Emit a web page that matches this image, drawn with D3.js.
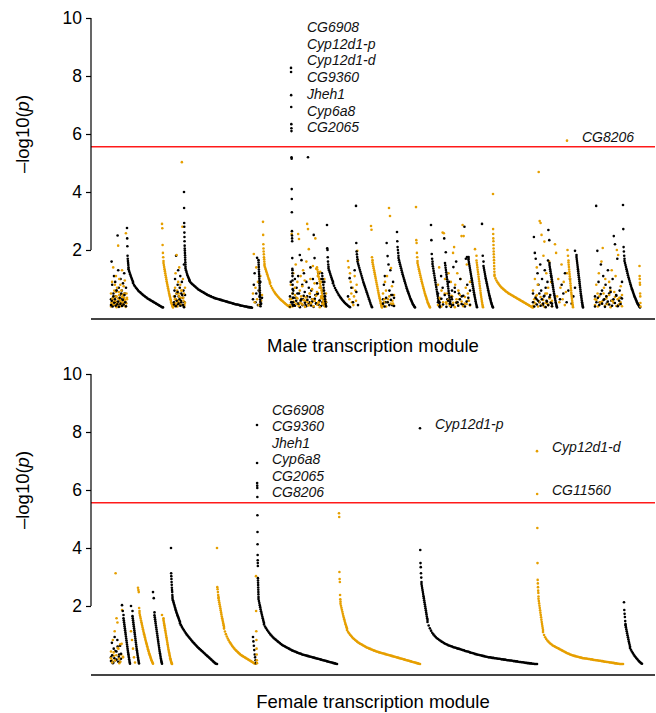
<!DOCTYPE html>
<html>
<head>
<meta charset="utf-8">
<script src="https://cdn.jsdelivr.net/npm/d3@7.9.0/dist/d3.min.js"></script>
<style>
  body { margin: 0; background: #fff; }
  svg { display: block; font-family: "Liberation Sans", Arial, Helvetica, sans-serif; }
</style>
</head>
<body>
<svg id="chart" width="656" height="713"></svg>
<script>
// Bonferroni line and y ticks
const threshold = 5.56;
const yTicks = [2, 4, 6, 8, 10];

// modules: [colour (0 black / 1 orange), start, end, top hits, sorted rest, steep part, steep width]
// values are -log10(p)
const maleModules = [
  [0, 20, 35, [], [0.3,1.6,0.8,0.1,0.5,1.1,0.2,0.9,0.4,0.6,0.2,2.5,1.3,0.7,0.1,0.45,1.0,0.3,0.6,0.15,0.85,0.35,1.2,0.5,0.2,0.7]],
  [1, 20, 36, [], [0.5,0.2,0.9,0.35,1.4,0.1,0.6,0.8,0.25,1.1,0.4,0.7,0.15,2.15,0.55,1.0,0.3,0.8,0.2,0.6,1.3,0.45,0.1,0.75,0.35,0.95,0.2,2.58,0.5,0.3]],
  [1, 20, 36, [], [0.05,0.15,0.3,0.08,0.22,0.4,0.12,0.55,0.03,0.18,0.33,0.09,0.45,0.25,0.06,0.14,0.38,0.2,0.1,0.5,0.28,0.04,0.16,0.35]],
  [0, 20, 35, [], [0.1,0.25,0.05,0.4,0.18,0.3,0.08,0.6,0.13,0.22,0.04,0.35,0.15,0.5,0.07,0.28,0.12,0.45,0.2,0.06]],
  [0, 36, 72, [2.76,2.40,2.13,1.80,1.70,1.62,1.55,1.48,1.40], [0.86,0.8,0.75,0.7,0.66,0.62,0.58,0.55,0.52,0.49,0.46,0.43,0.41,0.38,0.36,0.33,0.31,0.29,0.27,0.25,0.23,0.21,0.19,0.17,0.15,0.13,0.11,0.09,0.07,0.05,0.03,0.02], [1.34,1.28,1.22,1.16,1.1,1.05,1.0,0.95,0.9], 4.5],
  [1, 71, 82, [2.90,2.75,2.17,1.90,1.75,1.62], [1.55,1.48,1.41,1.34,1.27,1.2,1.13,1.06,0.99,0.92,0.86,0.8,0.74,0.68,0.62,0.56,0.5,0.45,0.4,0.35,0.3,0.25,0.2,0.16,0.12,0.08,0.05,0.02]],
  [0, 83, 94, [], [0.2,0.6,1.0,0.3,1.8,0.5,0.1,0.8,1.3,0.4,0.15,0.7,1.1,0.25,0.5,0.9,0.1,0.35,0.6,1.5,0.2,0.45]],
  [1, 83, 94, [], [0.4,0.1,0.7,1.2,0.3,1.83,0.6,0.2,0.9,0.5,1.4,0.15,0.8,0.35,0.6,5.03,2.8,1.0,0.25,0.5,0.1,0.7]],
  [1, 83, 94, [], [0.08,0.3,0.15,0.5,0.05,0.25,0.4,0.12,0.2,0.6,0.1,0.35,0.04,0.18]],
  [0, 83, 93, [], [0.12,0.4,0.06,0.25,0.55,0.15,0.3,0.08,0.2,0.45,0.1,0.03]],
  [0, 93, 161, [4.00,3.45,2.93,2.80,2.60,2.45,2.30,2.15,2.05,1.98,1.90,1.82,1.74,1.66,1.58,1.50,1.42], [0.93,0.89,0.85,0.82,0.79,0.76,0.73,0.7,0.67,0.64,0.62,0.6,0.58,0.56,0.54,0.52,0.5,0.48,0.46,0.44,0.43,0.41,0.4,0.38,0.37,0.35,0.34,0.33,0.32,0.31,0.3,0.29,0.28,0.27,0.26,0.25,0.24,0.23,0.22,0.21,0.2,0.19,0.18,0.17,0.16,0.15,0.14,0.13,0.12,0.12,0.11,0.1,0.09,0.08,0.08,0.07,0.06,0.05,0.05,0.04,0.03,0.03,0.02,0.02,0.01], [1.36,1.3,1.24,1.18,1.13,1.08,1.04,1.0,0.96], 4],
  [0, 162, 171, [], [0.3,0.8,1.2,0.2,0.5,1.73,0.1,0.6,0.4,0.9,0.15,0.35]],
  [1, 162, 171, [], [0.5,1.86,0.2,0.7,1.4,0.3,0.9,0.1,0.6,1.1,0.25,0.45]],
  [0, 167.5, 169.5, [], [1.65,1.57,1.49,1.41,1.33,1.25,1.17,1.09,1.01,0.93,0.85,0.77,0.69,0.61,0.53,0.45,0.37,0.29,0.21,0.13,0.06]],
  [1, 172, 199, [2.97,2.52,2.20,2.05,1.95,1.85,1.75,1.68,1.60,1.52], [0.84,0.76,0.69,0.63,0.57,0.52,0.47,0.43,0.39,0.35,0.31,0.28,0.25,0.22,0.19,0.16,0.13,0.1,0.08,0.05,0.03], [1.46,1.4,1.34,1.28,1.22,1.16,1.1,1.04,0.99,0.94,0.89], 5.5],
  [0, 199, 235, [], [0.4,0.9,0.2,1.3,0.6,0.1,1.0,0.35,0.7,0.15,1.1,0.5,1.83,0.25,1.65,0.8,0.3,1.2,0.55,0.1,0.9,0.4,5.2,0.7,0.2,1.4,0.6,0.3,1.0,2.52,1.72,0.45,0.15,0.85,0.5,1.2,0.25,0.7,1.0,0.35,0.6,0.1,0.9,0.4,0.2]],
  [1, 199, 235, [], [0.3,0.8,2.55,0.5,1.2,0.2,0.7,1.5,0.35,0.9,2.55,2.38,0.6,1.1,0.15,0.75,1.3,0.4,0.95,0.25,1.6,2.9,2.72,2.03,0.5,1.0,0.2,0.65,1.45,0.3,0.85,2.4,1.35,0.55,1.1,0.2,0.7,1.25,0.4,0.9,0.15,0.6,1.0,0.3,0.5]],
  [0, 199, 235, [], [0.05,0.2,0.12,0.35,0.08,0.25,0.5,0.15,0.03,0.3,0.1,0.42,0.18,0.06,0.28,0.14,0.38,0.09,0.22,0.04,0.32,0.16,0.48,0.11,0.26,0.07,0.2,0.36,0.13,0.05]],
  [1, 199, 235, [], [0.1,0.3,0.05,0.22,0.45,0.14,0.33,0.07,0.18,0.4,0.12,0.27,0.04,0.36,0.2,0.09,0.5,0.16,0.3,0.06,0.24,0.42,0.11,0.19,0.03,0.34,0.15,0.26,0.08,0.21]],
  [0, 200, 202, [8.28,8.14,7.34,6.93,6.34,6.20,6.10,5.20,5.15,4.10,3.76,3.30,2.65,2.50,2.40,2.30,1.72,1.35,1.20,1.10], [0.95,0.80,0.65,0.50,0.35,0.20,0.08]],
  [1, 226, 234, [], [1.4,1.32,1.24,1.16,1.08,1.0,0.92,0.84,0.76,0.68,0.6,0.52,0.44,0.37,0.3,0.23,0.16,0.1,0.05]],
  [0, 231, 235, [], [1.2,1.1,1.0,0.9,0.8,0.7,0.6,0.5,0.4,0.3,0.22,0.14,0.07]],
  [0, 236, 259, [2.86,2.06,2.00,1.75,1.60,1.50,1.42], [0.85,0.77,0.69,0.62,0.56,0.5,0.44,0.39,0.34,0.29,0.25,0.21,0.17,0.14,0.11,0.08,0.05,0.03], [1.36,1.3,1.24,1.18,1.12,1.06,1.0,0.95,0.9], 4.5],
  [1, 257, 267, [], [1.62,1.4,0.3,1.2,0.9,0.5,0.2,0.7,0.1,0.4,1.1,0.6,0.25,0.8,1.97,1.65]],
  [0, 257, 267, [], [0.4,1.03,0.7,0.2,1.3,0.55,0.1]],
  [0, 265, 281, [3.52,2.24,1.95,1.85,1.76,1.68], [1.6,1.53,1.46,1.39,1.32,1.25,1.18,1.11,1.04,0.97,0.9,0.84,0.78,0.72,0.66,0.6,0.54,0.48,0.42,0.36,0.3,0.24,0.18,0.12,0.07,0.03]],
  [1, 280, 291, [2.83,2.70,1.75,1.65], [1.58,1.51,1.44,1.37,1.3,1.23,1.16,1.09,1.02,0.95,0.88,0.81,0.74,0.67,0.6,0.53,0.46,0.4,0.34,0.28,0.22,0.16,0.1,0.05,0.02]],
  [0, 292, 303, [], [0.3,0.8,1.1,0.2,2.24,1.79,1.5,0.6,1.3,0.45,0.1,0.9,0.35]],
  [1, 292, 303, [], [0.5,0.2,0.9,0.6,1.1,0.3,3.45,3.17,1.38,0.75,0.15,0.45]],
  [1, 292, 303, [], [0.1,0.3,0.05,0.2,0.4,0.15,0.25,0.08]],
  [0, 292, 303, [], [0.15,0.05,0.35,0.2,0.1,0.28,0.45,0.07]],
  [0, 306, 324, [2.62,2.30,2.10,2.00,1.90,1.80], [1.72,1.65,1.58,1.51,1.44,1.37,1.3,1.23,1.16,1.1,1.04,0.98,0.92,0.86,0.8,0.74,0.68,0.63,0.58,0.53,0.48,0.43,0.38,0.33,0.29,0.25,0.21,0.17,0.13,0.1,0.07,0.04,0.02]],
  [1, 325, 339, [3.48,2.34,2.24,1.9,1.75,1.62], [1.55,1.48,1.41,1.34,1.27,1.2,1.13,1.06,0.99,0.92,0.86,0.8,0.74,0.68,0.62,0.56,0.5,0.45,0.4,0.35,0.3,0.25,0.2,0.16,0.12,0.08,0.05,0.02]],
  [0, 340, 349, [2.86,2.34,1.86,1.7,1.6], [1.52,1.44,1.36,1.28,1.2,1.12,1.04,0.96,0.88,0.8,0.72,0.64,0.56,0.48,0.41,0.34,0.27,0.2,0.14,0.08,0.03]],
  [1, 347, 361, [], [0.8,1.4,0.3,0.6,2.6,2.58,1.0,0.2,0.5,1.2,0.15,0.9,0.4]],
  [0, 347, 361, [], [0.5,0.2,1.1,0.7,2.4,1.92,0.3,0.9,0.1,0.6]],
  [0, 354, 360, [], [1.55,1.47,1.39,1.31,1.23,1.15,1.07,0.99,0.91,0.83,0.75,0.67,0.59,0.51,0.43,0.36,0.29,0.22,0.15,0.09,0.04]],
  [1, 361, 379, [], [0.4,1.9,2.1,0.8,0.2,1.2,0.6,0.3,1.0,2.48,2.86,2.48,0.15,0.7,1.5,0.5,0.25,0.9]],
  [0, 361, 379, [], [0.3,1.41,0.7,1.6,0.2,0.5,1.0,0.4,0.1,2.8,1.7,0.8,1.76,0.6]],
  [1, 347, 379, [], [0.1,0.35,0.05,0.2,0.5,0.15,0.28,0.08,0.42,0.18,0.03,0.3,0.12,0.45,0.22,0.06,0.38,0.14,0.26,0.09]],
  [0, 347, 379, [], [0.2,0.06,0.32,0.12,0.45,0.04,0.25,0.15,0.38,0.1,0.55,0.18,0.08,0.3,0.14,0.42,0.05,0.22,0.35,0.11]],
  [0, 376, 386, [1.76,1.7], [1.66,1.59,1.52,1.45,1.38,1.31,1.24,1.17,1.1,1.03,0.96,0.89,0.82,0.75,0.68,0.61,0.54,0.47,0.41,0.35,0.29,0.23,0.17,0.12,0.07,0.03]],
  [1, 384, 392, [2.03,1.8], [1.64,1.56,1.48,1.4,1.32,1.24,1.16,1.08,1.0,0.92,0.84,0.76,0.68,0.6,0.52,0.45,0.38,0.31,0.24,0.18,0.12,0.07,0.03]],
  [0, 391, 402, [2.90,1.80,1.6], [1.45,1.38,1.31,1.24,1.17,1.1,1.03,0.97,0.91,0.85,0.79,0.73,0.67,0.61,0.55,0.49,0.44,0.39,0.34,0.29,0.24,0.19,0.15,0.11,0.07,0.04,0.02]],
  [1, 402, 442, [3.93,2.72,2.55,2.40,2.30,2.17,2.05,1.95,1.85,1.75,1.65,1.55,1.45,1.35,1.25,1.15], [1.10,1.02,0.95,0.89,0.84,0.79,0.75,0.71,0.68,0.65,0.62,0.59,0.56,0.54,0.51,0.49,0.47,0.45,0.43,0.41,0.39,0.37,0.35,0.33,0.31,0.29,0.27,0.25,0.23,0.21,0.19,0.17,0.15,0.13,0.11,0.09,0.07,0.05,0.03,0.02]],
  [0, 442, 461, [], [0.5,2.45,1.9,1.7,0.3,1.2,0.8,0.2,1.5,0.6,1.0,0.1,0.4,1.3,0.7,0.25,0.9,2.69,2.34,0.45,1.1,0.15]],
  [1, 442, 461, [], [0.6,0.2,1.0,0.4,1.4,0.8,4.69,3.0,2.93,2.52,0.3,1.8,2.29,0.5,1.2,0.15,0.7,1.6,0.35,0.9,0.25]],
  [1, 442, 461, [], [0.08,0.3,0.15,0.45,0.05,0.22,0.38,0.12,0.28,0.04,0.18,0.5,0.1,0.33,0.2,0.06]],
  [0, 442, 461, [], [0.2,0.05,0.35,0.12,0.25,0.5,0.08,0.3,0.15,0.42,0.03,0.22,0.1,0.38,0.18,0.06]],
  [0, 457, 466, [1.64,1.55], [1.48,1.41,1.34,1.27,1.2,1.13,1.06,0.99,0.92,0.85,0.78,0.71,0.64,0.57,0.5,0.44,0.38,0.32,0.26,0.2,0.15,0.1,0.06,0.02]],
  [1, 464, 476, [], [2.2,1.9,0.4,1.0,0.2,0.7,1.5,0.3,0.9,0.1,0.55,1.2]],
  [0, 469, 484, [], [0.3,0.8,0.5,1.2,0.2,0.6,1.0,0.15,0.4,0.7]],
  [1, 476, 482, [5.77,2.0,1.8,1.64], [1.57,1.49,1.41,1.33,1.25,1.17,1.09,1.01,0.93,0.85,0.77,0.69,0.61,0.53,0.46,0.39,0.32,0.25,0.19,0.13,0.08,0.03]],
  [0, 484, 492, [1.97,1.83], [1.76,1.69,1.62,1.55,1.48,1.41,1.34,1.27,1.2,1.13,1.06,0.99,0.92,0.85,0.78,0.71,0.64,0.57,0.5,0.44,0.38,0.32,0.26,0.2,0.15,0.1,0.06,0.02]],
  [0, 504, 531, [], [0.4,3.52,1.97,0.9,0.2,1.5,0.6,1.1,0.3,0.8,0.15,1.3,0.5,0.7,0.25,1.0,2.48,2.2,0.45,1.7,0.1,0.6,0.35,0.9]],
  [1, 504, 531, [], [0.3,0.8,0.5,1.2,0.2,1.6,2.07,0.7,1.0,0.4,0.15,0.9,0.6,1.3,0.25,0.55,1.1,2.0,1.83,0.35,0.75,0.45]],
  [1, 504, 531, [], [0.1,0.28,0.05,0.4,0.16,0.22,0.5,0.08,0.33,0.13,0.45,0.03,0.25,0.18,0.38,0.07,0.3,0.12,0.2,0.06]],
  [0, 504, 531, [], [0.05,0.2,0.35,0.1,0.48,0.15,0.28,0.04,0.4,0.22,0.12,0.55,0.08,0.3,0.17,0.42,0.06,0.25,0.14,0.33]],
  [0, 532, 549, [3.55,2.72,2.1,1.95,1.8,1.7], [1.62,1.55,1.48,1.41,1.34,1.27,1.2,1.13,1.06,1.0,0.94,0.88,0.82,0.76,0.7,0.65,0.6,0.55,0.5,0.45,0.4,0.36,0.32,0.28,0.24,0.2,0.16,0.13,0.1,0.07,0.04,0.02]],
  [1, 548.5, 549.5, [], [1.45,1.1,1.0,0.87,0.8,0.5,0.4,0.17,0.05]]
];

const femaleModules = [
  [0, 20, 30, [], [0.23,0.73,0.03,0.53,0.93,0.13,0.43,0.83,0.08,0.33,0.63,0.18]],
  [1, 20, 32, [], [0.43,0.13,0.83,0.28,1.13,3.13,1.58,1.43,0.53,0.03,0.68,0.33,1.86,0.23]],
  [0, 20, 30, [], [0.1,0.3,0.05,0.2,0.45,0.15,0.6,0.25,0.08,0.35]],
  [1, 20, 32, [], [0.2,0.05,0.4,0.12,0.3,0.55,0.18,0.08,0.7,0.25]],
  [0, 31, 39, [2.03,1.83,1.69], [1.58,1.51,1.44,1.37,1.3,1.23,1.16,1.09,1.02,0.95,0.88,0.81,0.74,0.67,0.6,0.53,0.46,0.4,0.34,0.28,0.22,0.16,0.1,0.05,0.01]],
  [1, 40, 44, [], [1.13,0.83,0.53,0.23,0.05]],
  [0, 40, 48, [2.0,1.83], [1.65,1.58,1.51,1.44,1.37,1.3,1.23,1.16,1.09,1.02,0.95,0.88,0.81,0.74,0.67,0.6,0.53,0.47,0.41,0.35,0.29,0.23,0.17,0.12,0.07,0.02]],
  [1, 47, 62, [2.63,2.55,2.48,1.93,1.83], [1.76,1.69,1.63,1.57,1.5,1.44,1.38,1.32,1.26,1.2,1.14,1.08,1.03,0.97,0.92,0.86,0.81,0.76,0.71,0.66,0.61,0.56,0.51,0.46,0.42,0.37,0.33,0.29,0.25,0.21,0.17,0.13,0.1,0.07,0.04,0.01]],
  [0, 62, 71, [2.48,2.27,1.78], [1.68,1.61,1.54,1.47,1.4,1.33,1.26,1.19,1.12,1.05,0.98,0.91,0.84,0.77,0.7,0.63,0.56,0.49,0.43,0.37,0.31,0.25,0.19,0.14,0.09,0.05,0.01]],
  [1, 71, 81, [1.69,1.58], [1.52,1.46,1.4,1.34,1.28,1.22,1.16,1.1,1.04,0.98,0.92,0.86,0.8,0.74,0.68,0.62,0.56,0.5,0.45,0.4,0.35,0.3,0.25,0.2,0.16,0.12,0.08,0.05,0.02,0.0]],
  [0, 80, 126, [4.0,3.13,3.03,2.93,2.83,2.73,2.63,2.55,2.48,2.38,2.31], [1.4,1.34,1.28,1.22,1.17,1.12,1.07,1.02,0.98,0.94,0.9,0.86,0.82,0.78,0.74,0.71,0.67,0.64,0.6,0.57,0.54,0.51,0.48,0.45,0.42,0.39,0.36,0.33,0.3,0.27,0.24,0.21,0.18,0.15,0.12,0.09,0.06,0.03,0.01,0.0], [2.25,2.2,2.15,2.1,2.05,2.0,1.95,1.9,1.85,1.8,1.76,1.72,1.68,1.64,1.6,1.56,1.52,1.48,1.45], 7.5],
  [1, 126, 164, [4.0,2.65,2.58,2.48,2.38,2.31], [1.22,1.12,1.03,0.95,0.88,0.82,0.76,0.71,0.66,0.61,0.57,0.53,0.49,0.46,0.43,0.4,0.37,0.34,0.31,0.29,0.27,0.25,0.23,0.21,0.19,0.17,0.15,0.13,0.11,0.09,0.07,0.05,0.03,0.01], [2.27,2.2,2.13,2.06,1.99,1.92,1.85,1.78,1.71,1.64,1.58,1.52,1.46,1.4,1.34,1.28], 5.5],
  [0, 162, 165, [], [0.93,0.78,0.63,0.48,0.33,0.23,0.13,0.03]],
  [1, 165, 166, [], [3.03,1.83,1.13,0.83,0.53,0.33,0.13,0.03]],
  [0, 166, 246, [8.24,6.93,6.24,6.15,6.07,5.76,5.13,4.55,4.13,3.76,3.58,3.48,3.38,2.96,2.88,2.8,2.72,2.64,2.56,2.48,2.4,2.31], [1.36,1.29,1.23,1.17,1.12,1.07,1.02,0.98,0.94,0.9,0.87,0.84,0.81,0.78,0.75,0.72,0.69,0.66,0.64,0.62,0.6,0.58,0.56,0.54,0.52,0.5,0.48,0.46,0.45,0.43,0.42,0.4,0.39,0.37,0.36,0.35,0.33,0.32,0.31,0.3,0.29,0.28,0.27,0.26,0.25,0.24,0.23,0.22,0.21,0.2,0.19,0.18,0.17,0.16,0.15,0.14,0.13,0.12,0.11,0.1,0.09,0.08,0.07,0.06,0.05,0.04,0.03,0.02,0.01,0.0], [2.24,2.17,2.1,2.03,1.96,1.89,1.82,1.76,1.7,1.64,1.58,1.52,1.46,1.41], 5.5],
  [1, 248, 329, [5.2,5.07,3.17,2.93,2.83,2.38,2.23,2.15], [1.17,1.11,1.06,1.01,0.97,0.93,0.89,0.86,0.83,0.8,0.77,0.74,0.72,0.7,0.68,0.66,0.64,0.62,0.6,0.58,0.56,0.55,0.53,0.52,0.5,0.49,0.47,0.46,0.45,0.43,0.42,0.41,0.4,0.39,0.38,0.37,0.36,0.35,0.34,0.33,0.32,0.31,0.3,0.29,0.28,0.27,0.26,0.25,0.24,0.23,0.22,0.21,0.2,0.19,0.18,0.17,0.16,0.15,0.14,0.13,0.12,0.11,0.1,0.09,0.08,0.07,0.06,0.05,0.04,0.03,0.02,0.01,0.0], [2.08,2.01,1.94,1.87,1.8,1.73,1.66,1.6,1.54,1.48,1.42,1.37,1.32,1.27,1.22], 6.5],
  [0, 329, 446, [8.13,3.93,3.48,3.34,3.13,2.98,2.83], [1.45,1.33,1.23,1.15,1.08,1.02,0.97,0.93,0.89,0.86,0.83,0.8,0.77,0.75,0.72,0.7,0.68,0.66,0.64,0.63,0.61,0.6,0.58,0.57,0.56,0.54,0.53,0.52,0.51,0.49,0.48,0.47,0.45,0.44,0.43,0.42,0.4,0.39,0.38,0.37,0.35,0.34,0.33,0.32,0.31,0.3,0.29,0.28,0.27,0.26,0.25,0.24,0.23,0.23,0.22,0.21,0.21,0.2,0.2,0.19,0.18,0.18,0.17,0.16,0.16,0.15,0.15,0.14,0.13,0.13,0.12,0.12,0.11,0.1,0.1,0.09,0.09,0.08,0.07,0.07,0.06,0.06,0.05,0.04,0.04,0.03,0.03,0.02,0.02,0.01,0.01,0.0,0.0,0.0], [2.76,2.69,2.62,2.55,2.48,2.41,2.34,2.27,2.2,2.13,2.06,1.99,1.92,1.85,1.78,1.71,1.64,1.58,1.52], 6],
  [1, 446, 532, [7.34,5.86,4.69,3.48,2.9,2.78,2.65,2.53,2.45,2.33], [1.1,1.0,0.92,0.86,0.81,0.77,0.73,0.7,0.67,0.64,0.62,0.6,0.58,0.56,0.54,0.52,0.5,0.48,0.46,0.44,0.42,0.4,0.38,0.36,0.35,0.33,0.32,0.3,0.29,0.28,0.27,0.26,0.25,0.24,0.23,0.22,0.21,0.2,0.2,0.19,0.19,0.18,0.17,0.17,0.16,0.16,0.15,0.14,0.14,0.13,0.13,0.12,0.11,0.11,0.1,0.1,0.09,0.08,0.08,0.07,0.07,0.06,0.05,0.05,0.04,0.04,0.03,0.02,0.02,0.01,0.01,0.0,0.0,0.0,0.0], [2.25,2.17,2.09,2.01,1.93,1.85,1.77,1.69,1.61,1.53,1.45,1.38,1.31,1.24,1.17], 4.5],
  [0, 533, 551, [2.13,1.86,1.73,1.62,1.48,1.38], [0.55,0.49,0.43,0.38,0.33,0.28,0.24,0.2,0.16,0.12,0.09,0.06,0.03,0.01], [1.34,1.27,1.2,1.13,1.06,0.99,0.92,0.85,0.78,0.72,0.66,0.6], 4.5]
];

// gene labels stacked next to the big peak
const maleStack = ['CG6908', 'Cyp12d1-p', 'Cyp12d1-d', 'CG9360', 'Jheh1', 'Cyp6a8', 'CG2065'];
const femaleStack = ['CG6908', 'CG9360', 'Jheh1', 'Cyp6a8', 'CG2065', 'CG8206'];
// single labelled hits: [gene, position, -log10(p)]
const maleHits = [['CG8206', 476, 5.77]];
const femaleHits = [['Cyp12d1-p', 329, 8.13], ['Cyp12d1-d', 446, 7.34], ['CG11560', 446, 5.86]];

const svg = d3.select('#chart');
const x = d3.scaleLinear().domain([0, 564]).range([91, 655]);
const colors = d3.scaleOrdinal([0, 1], ['#000000', '#E69F00']);
const HEAD_W = 1.5;

// spread a run of values evenly between two positions
function place(out, c, vals, a, b) {
  vals.forEach((v, i) => out.push({ c, v, x: a + (vals.length > 1 ? i / (vals.length - 1) : 0) * (b - a) }));
}

function drawPanel(cfg) {
  const y = d3.scaleLinear().domain([0, 10]).range([cfg.bottom, cfg.bottom - 290]);
  const g = svg.append('g');

  const pts = [];
  cfg.modules.forEach(([c, x0, x1, head, tail, steep = [], sw = 0]) => {
    const hw = head.length ? HEAD_W : 0;
    place(pts, c, head, x0, x0 + hw);
    place(pts, c, steep, x0 + hw, x0 + hw + sw);
    place(pts, c, tail, x0 + hw + sw, x1);
  });

  g.append('g').selectAll('circle')
    .data(pts)
    .join('circle')
    .attr('cx', d => x(d.x))
    .attr('cy', d => y(d.v))
    .attr('r', 1.3)
    .attr('fill', d => colors(d.c));

  // threshold
  g.append('line')
    .attr('x1', x(0)).attr('x2', x(564))
    .attr('y1', y(threshold)).attr('y2', y(threshold))
    .attr('stroke', '#ff1a1a').attr('stroke-width', 1.3);

  // y axis, line only from 2 to 10
  const ax = g.append('g')
    .attr('transform', `translate(${x(0)},0)`)
    .call(d3.axisLeft(y).tickValues(yTicks).tickSize(5).tickPadding(4));
  ax.attr('font-family', null).attr('font-size', 17.5);
  ax.select('.domain').remove();
  ax.append('line').attr('y1', y(2)).attr('y2', y(10)).attr('stroke', '#000').attr('stroke-width', 1.2);
  ax.selectAll('.tick line').attr('stroke-width', 1.2);
  ax.selectAll('.tick text').attr('fill', '#000');

  // bottom line
  g.append('line')
    .attr('x1', x(0)).attr('x2', x(564))
    .attr('y1', cfg.bottom + 11).attr('y2', cfg.bottom + 11)
    .attr('stroke', '#444').attr('stroke-width', 1.8);

  // axis titles
  g.append('text')
    .attr('x', x(282)).attr('y', cfg.bottom + 44)
    .attr('text-anchor', 'middle').attr('font-size', 18.5)
    .text(cfg.title);

  const yt = g.append('text')
    .attr('transform', `translate(29,${(y(2) + y(10)) / 2}) rotate(-90)`)
    .attr('text-anchor', 'middle').attr('font-size', 18.5);
  yt.append('tspan').text('\u2013log10(');
  yt.append('tspan').attr('font-style', 'italic').text('p');
  yt.append('tspan').text(')');

  // stacked labels
  g.append('g').selectAll('text')
    .data(cfg.stack)
    .join('text')
    .attr('x', x(cfg.stackX))
    .attr('y', (d, i) => cfg.stackTop + i * cfg.stackStep)
    .attr('font-size', 14).attr('font-style', 'italic').attr('fill', '#111')
    .text(d => d);

  // single labels
  g.append('g').selectAll('text')
    .data(cfg.hits)
    .join('text')
    .attr('x', d => x(d[1]) + 15)
    .attr('y', d => y(d[2]) + 1)
    .attr('font-size', 14).attr('font-style', 'italic').attr('fill', '#111')
    .text(d => d[0]);
}

drawPanel({
  modules: maleModules, bottom: 308, title: 'Male transcription module',
  stack: maleStack, stackX: 216, stackTop: 32, stackStep: 16.7, hits: maleHits
});
drawPanel({
  modules: femaleModules, bottom: 664, title: 'Female transcription module',
  stack: femaleStack, stackX: 181, stackTop: 415, stackStep: 16.4, hits: femaleHits
});
</script>
</body>
</html>
